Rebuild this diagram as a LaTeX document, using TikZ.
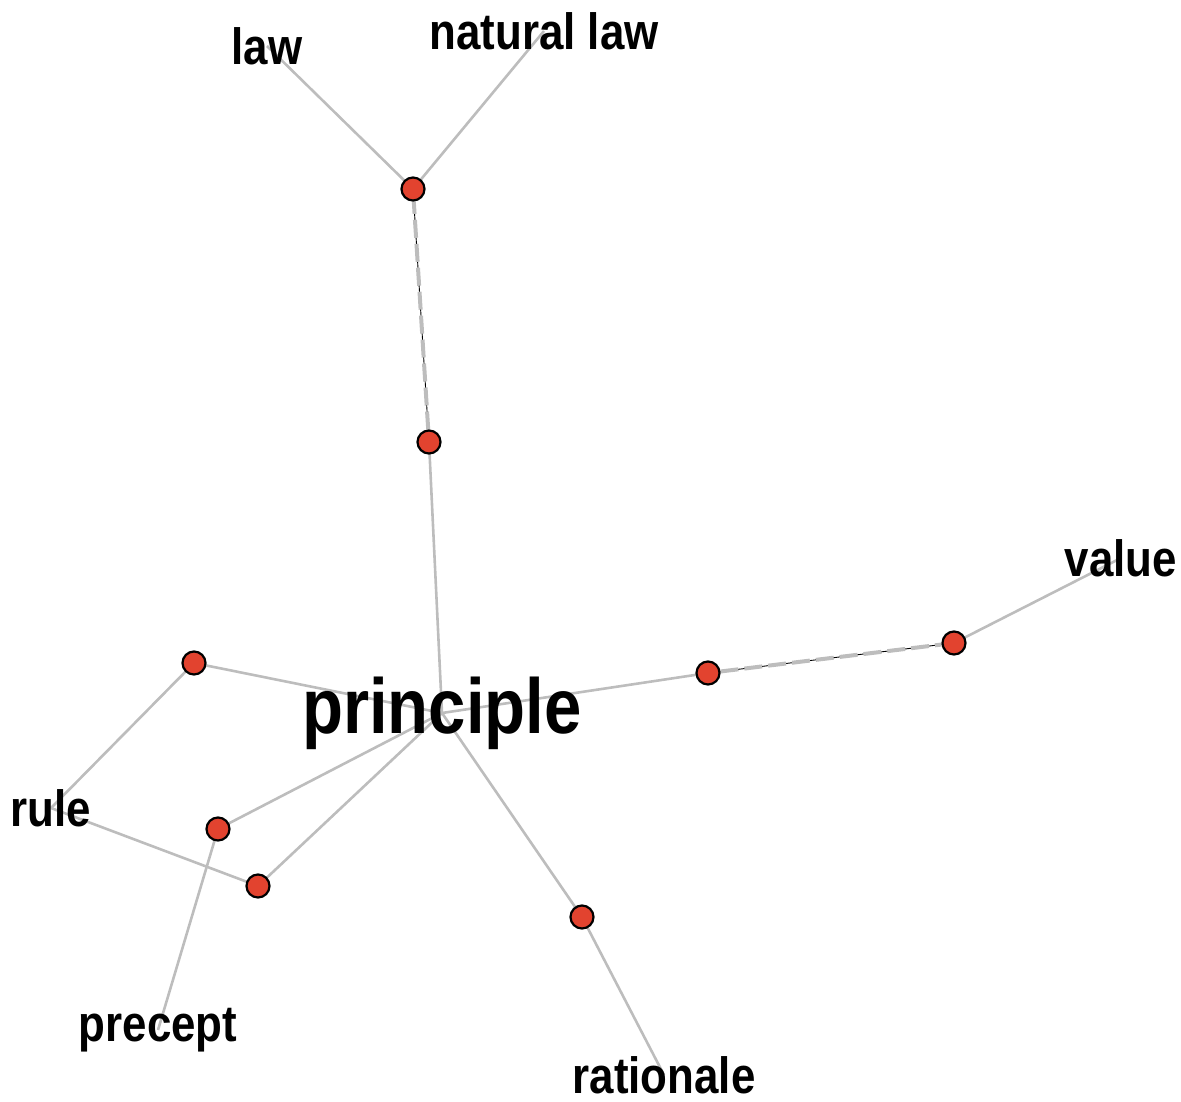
\documentclass[tikz,border=0pt]{standalone}
\usepackage{fontspec}
\setmainfont{Liberation Sans}[FakeStretch=0.86]
\usetikzlibrary{backgrounds}
\definecolor{dotred}{HTML}{E2432F}
\definecolor{edgegray}{HTML}{BDBDBD}
\tikzset{
  dot/.style={circle, draw=black, line width=1.1pt, fill=dotred, inner sep=0pt, minimum size=11.5pt},
  word/.style={font=\bfseries\fontsize{25.5}{25.5}\selectfont, inner sep=0pt},
  edge/.style={draw=edgegray, line width=1.3pt},
  twinline/.style={draw=edgegray, line width=2pt, dash pattern=on 9pt off 3pt}
}

\begin{document}
\begin{tikzpicture}[x=0.5pt, y=-0.5pt]
  \useasboundingbox (0,0) rectangle (1181,1101);
  % hub
  \node[word, font=\bfseries\fontsize{39}{39}\selectfont] (principle) at (442,713) {principle};
  % junction dots
  \node[dot] (d1) at (429,442) {};
  \node[dot] (d2) at (413,189) {};
  \node[dot] (d3) at (194,663) {};
  \node[dot] (d4) at (218,829) {};
  \node[dot] (d5) at (258,886) {};
  \node[dot] (d6) at (582,917) {};
  \node[dot] (d7) at (708,673) {};
  \node[dot] (d8) at (954,643) {};
  % leaf words
  \node[word] (law) at (267,46) {law};
  \node[word] (natlaw) at (544,31) {natural law};
  \node[word] (value) at (1121,558) {value};
  \node[word] (rule) at (51,808) {rule};
  \node[word] (precept) at (158,1030) {precept};
  \node[word] (rationale) at (664,1075) {rationale};

  \begin{pgfonlayer}{background}
    \draw[edge] (principle.center) -- (d1.center);
    \draw[edge] (principle.center) -- (d3.center);
    \draw[edge] (principle.center) -- (d4.center);
    \draw[edge] (principle.center) -- (d5.center);
    \draw[edge] (principle.center) -- (d6.center);
    \draw[edge] (principle.center) -- (d7.center);
    \draw[edge] (d2.center) -- (law.center);
    \draw[edge] (d2.center) -- (natlaw.center);
    \draw[edge] (d3.center) -- (rule.center);
    \draw[edge] (d5.center) -- (rule.center);
    \draw[edge] (d4.center) -- (precept.center);
    \draw[edge] (d6.center) -- (rationale.center);
    \draw[edge] (d8.center) -- (value.center);
    % doubled links
    \draw[black, line width=0.45pt] (d1) -- (d2);
    \draw[twinline] (d1) -- (d2);
    \draw[black, line width=0.45pt] (d7) -- (d8);
    \draw[twinline] (d7) -- (d8);
  \end{pgfonlayer}
\end{tikzpicture}
\end{document}
